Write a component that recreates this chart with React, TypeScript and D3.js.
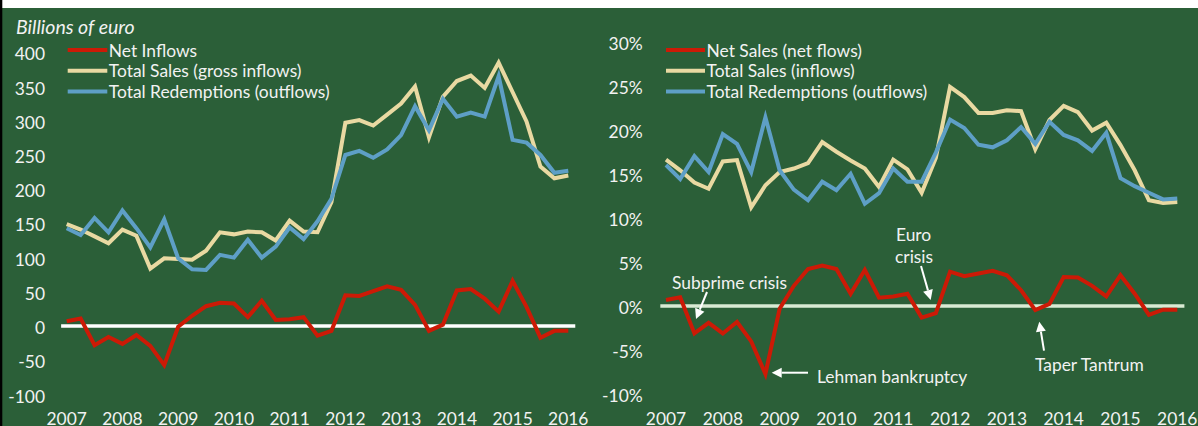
import React from "react";
import * as d3 from "d3";

const years = ["2007","2008","2009","2010","2011","2012","2013","2014","2015","2016"];

// Left panel: billions of euro, quarterly 2007Q1..2016Q1
const netInflows = [7,11,-28,-16,-26,-13,-29,-57,-1,15,29,34,33,13,37,9,10,13,-14,-7,45,44,51,58,53,31,-7,2,52,54,40,21,66,28,-17,-7,-7];
const totalSales = [149,141,131,121,141,132,84,99,98,97,110,137,134,138,137,125,154,138,137,181,297,301,293,309,325,350,276,335,358,366,348,385,342,299,233,216,220];
const totalRedemptions = [143,133,158,137,169,143,115,156,99,83,82,104,100,126,100,116,144,127,153,186,250,256,246,258,279,321,286,332,306,312,306,365,272,268,250,224,227];

// Right panel: % of assets
const netSalesPct = [0.7,1.0,-3.1,-1.9,-3.1,-1.8,-4.0,-7.7,-0.3,2.3,4.2,4.6,4.2,1.4,4.1,0.95,1.1,1.4,-1.3,-0.8,3.9,3.4,3.7,4.0,3.5,1.8,-0.45,0.25,3.3,3.25,2.3,1.1,3.5,1.4,-1.0,-0.4,-0.4];
const salesPct = [16.6,15.4,14.0,13.3,16.4,16.55,11.2,13.7,15.2,15.6,16.2,18.6,17.5,16.5,15.6,13.5,16.6,15.5,12.85,16.8,24.85,23.7,21.9,21.9,22.2,22.1,17.8,21.1,22.7,22.0,19.9,20.8,18.25,15.4,12.0,11.7,11.8];
const redemptionsPct = [16.0,14.4,17.0,15.2,19.5,18.4,15.2,21.4,15.4,13.2,12.0,14.1,13.15,15.0,11.6,12.8,15.6,14.1,14.1,17.4,21.15,20.2,18.3,18.0,18.8,20.3,18.4,20.9,19.4,18.8,17.6,19.65,14.5,13.6,12.85,12.1,12.2];

const leftTicks = [-100,-50,0,50,100,150,200,250,300,350,400];
const rightTicks = [-10,-5,0,5,10,15,20,25,30];

const leftLegend = ["Net Inflows","Total Sales (gross inflows)","Total Redemptions (outflows)"];
const rightLegend = ["Net Sales (net flows)","Total Sales (inflows)","Total Redemptions (outflows)"];

const BG = "#2b5f38";
const RED = "#cc1a06";
const BEIGE = "#e9d9a2";
const BLUE = "#5e9fc6";
const TXT = "#f2f2f2";
const FONT = "Lato, 'Open Sans', sans-serif";
const FS = 17.4;

function Arrow({ x1, y1, x2, y2 }: { x1: number; y1: number; x2: number; y2: number }) {
  const ang = Math.atan2(y2 - y1, x2 - x1);
  const L = 10, W = 5;
  const bx = x2 - L * Math.cos(ang), by = y2 - L * Math.sin(ang);
  const px = -Math.sin(ang) * W, py = Math.cos(ang) * W;
  return (
    <g>
      <line x1={x1} y1={y1} x2={bx} y2={by} stroke="#ffffff" strokeWidth={2} />
      <path d={`M${x2},${y2}L${bx + px},${by + py}L${bx - px},${by - py}Z`} fill="#ffffff" />
    </g>
  );
}

function Panel({ x, y, ticks, fmt, series, legend, labelRight, zeroColor, legendX, legendLineX2 }: any) {
  const line = d3.line<number>().x((_, i) => x(i)).y((d) => y(d));
  const colors = [RED, BEIGE, BLUE];
  const order = [1, 2, 0];
  return (
    <g>
      {ticks.map((t: number) => (
        <text key={t} x={labelRight} y={y(t) + 1.5} textAnchor="end" dominantBaseline="central" fill={TXT} fontSize={FS} fontFamily={FONT}>{fmt(t)}</text>
      ))}
      {years.map((yr, k) => (
        <text key={yr} x={x(k * 4)} y={424.5} textAnchor="middle" fill={TXT} fontSize={FS} fontFamily={FONT}>{yr}</text>
      ))}
      <line x1={x(-0.4)} x2={x(36.5)} y1={y(0)} y2={y(0)} stroke={zeroColor} strokeWidth={3.5} />
      {order.map((s) => (
        <path key={s} d={line(series[s]) || ""} fill="none" stroke={colors[s]} strokeWidth={4} strokeLinejoin="miter" />
      ))}
      {legend.map((lab: string, k: number) => (
        <g key={lab}>
          <line x1={legendX} x2={legendLineX2} y1={50 + k * 20.8} y2={50 + k * 20.8} stroke={colors[k]} strokeWidth={4} />
          <text x={legendLineX2 + 1.5} y={50 + k * 20.8} dominantBaseline="central" fill={TXT} fontSize={FS} fontFamily={FONT}>{lab}</text>
        </g>
      ))}
    </g>
  );
}

export default function App() {
  const xL = d3.scaleLinear().domain([0, 36]).range([66.7, 568.3]);
  const yL = d3.scaleLinear().domain([-100, 400]).range([394.5, 52.3]);
  const xR = d3.scaleLinear().domain([0, 36]).range([666, 1177.3]);
  const yR = d3.scaleLinear().domain([-10, 30]).range([394.3, 41.5]);
  return (
    <svg width={1198} height={426} style={{ position: "absolute", left: 0, top: 0 }}>
      <rect x={0} y={0} width={1198} height={426} fill="#ffffff" />
      <rect x={0} y={8} width={1198} height={418} fill={BG} />
      <rect x={0} y={0} width={2.3} height={426} fill="#000000" />
      <text x={16} y={34} fill={TXT} fontSize={19.5} fontStyle="italic" fontFamily={FONT}>Billions of euro</text>
      <Panel x={xL} y={yL} ticks={leftTicks} fmt={(t: number) => String(t)} series={[netInflows, totalSales, totalRedemptions]}
        legend={leftLegend} labelRight={45} zeroColor="#ffffff" legendX={67.7} legendLineX2={107.3} />
      <Panel x={xR} y={yR} ticks={rightTicks} fmt={(t: number) => `${t}%`} series={[netSalesPct, salesPct, redemptionsPct]}
        legend={rightLegend} labelRight={642.7} zeroColor="#d9ead3" legendX={666} legendLineX2={705} />
      <g fill={TXT} fontSize={FS} fontFamily={FONT} dominantBaseline="central">
        <text x={672} y={282}>Subprime crisis</text>
        <text x={817} y={376}>Lehman bankruptcy</text>
        <text x={896} y={234}>Euro</text>
        <text x={895} y={256}>crisis</text>
        <text x={1035} y={364.5}>Taper Tantrum</text>
      </g>
      <Arrow x1={707} y1={292} x2={696} y2={319} />
      <Arrow x1={808} y1={372.7} x2={771.7} y2={372.7} />
      <Arrow x1={921} y1={266} x2={930.7} y2={300} />
      <Arrow x1={1044} y1={350.7} x2={1039.3} y2={321.7} />
    </svg>
  );
}
